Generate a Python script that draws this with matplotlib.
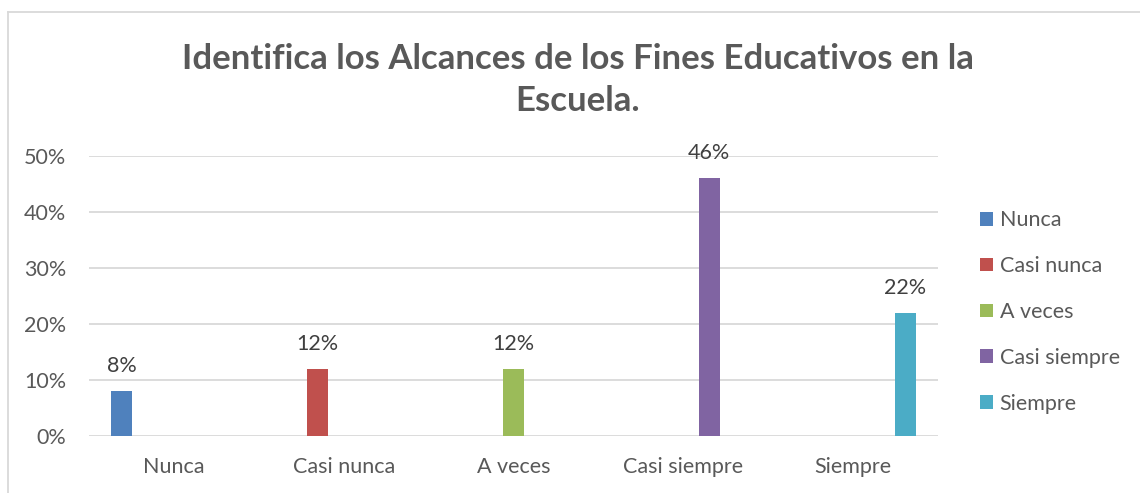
import numpy as np
import matplotlib.pyplot as plt
from matplotlib.lines import Line2D
from matplotlib.ticker import PercentFormatter

plt.rcParams['font.family'] = ['Lato', 'DejaVu Sans']

# data
categories = ['Nunca', 'Casi nunca', 'A veces', 'Casi siempre', 'Siempre']
values = [0.08, 0.12, 0.12, 0.46, 0.22]
colors = ['#4F81BD', '#C0504D', '#9BBB59', '#8064A2', '#4BACC6']
title = 'Identifica los Alcances de los Fines Educativos en la\nEscuela.'

fig = plt.figure(figsize=(11.4, 4.93), dpi=100)
ax = fig.add_axes([89/1140, 1 - 436/493, (938 - 89)/1140, (436 - 156)/493])

# each series only has a value in its own category (excel clustered layout)
n = len(categories)
step = 0.153
width = 0.124
x = np.arange(n)
for i in range(n):
    pos = x[i] + (i - (n - 1) / 2) * step
    ax.bar(pos, values[i], width, color=colors[i], label=categories[i], zorder=3)
    ax.annotate(f'{values[i]*100:.0f}%', (pos, values[i]), xytext=(0, 18),
                textcoords='offset points', ha='center', va='center',
                fontsize=15.5, color='#404040')

ax.set_xlim(-0.5, n - 0.5)
ax.set_ylim(0, 0.5)
ax.set_yticks(np.arange(0, 0.51, 0.1))
ax.yaxis.set_major_formatter(PercentFormatter(1.0, decimals=0))
ax.set_xticks(x)
ax.set_xticklabels(categories)
ax.tick_params(axis='both', length=0, labelsize=15.5, colors='#595959')
ax.tick_params(axis='x', pad=15)
ax.tick_params(axis='y', pad=16.5)
ax.grid(axis='y', color='#d9d9d9', linewidth=1.3, zorder=0)
for s in ax.spines.values():
    s.set_visible(False)

fig.text(0.5 * (183 + 972) / 1140, 1 - 80/493, title, ha='center', va='center',
         fontsize=25, fontweight='bold', color='#595959', linespacing=1.4)

fig.legend(loc='center left', bbox_to_anchor=(961/1140, 1 - 312/493),
           frameon=False, fontsize=15.5, labelcolor='#595959',
           handlelength=0.6, handleheight=0.6, handletextpad=0.3,
           labelspacing=1.2)

# outer chart border
fig.add_artist(Line2D([8/1140, 8/1140], [0, 1 - 12/493], color='#d9d9d9', lw=1.3))
fig.add_artist(Line2D([8/1140, 1], [1 - 12/493, 1 - 12/493], color='#d9d9d9', lw=1.3))

fig.savefig('out.png', dpi=100)
